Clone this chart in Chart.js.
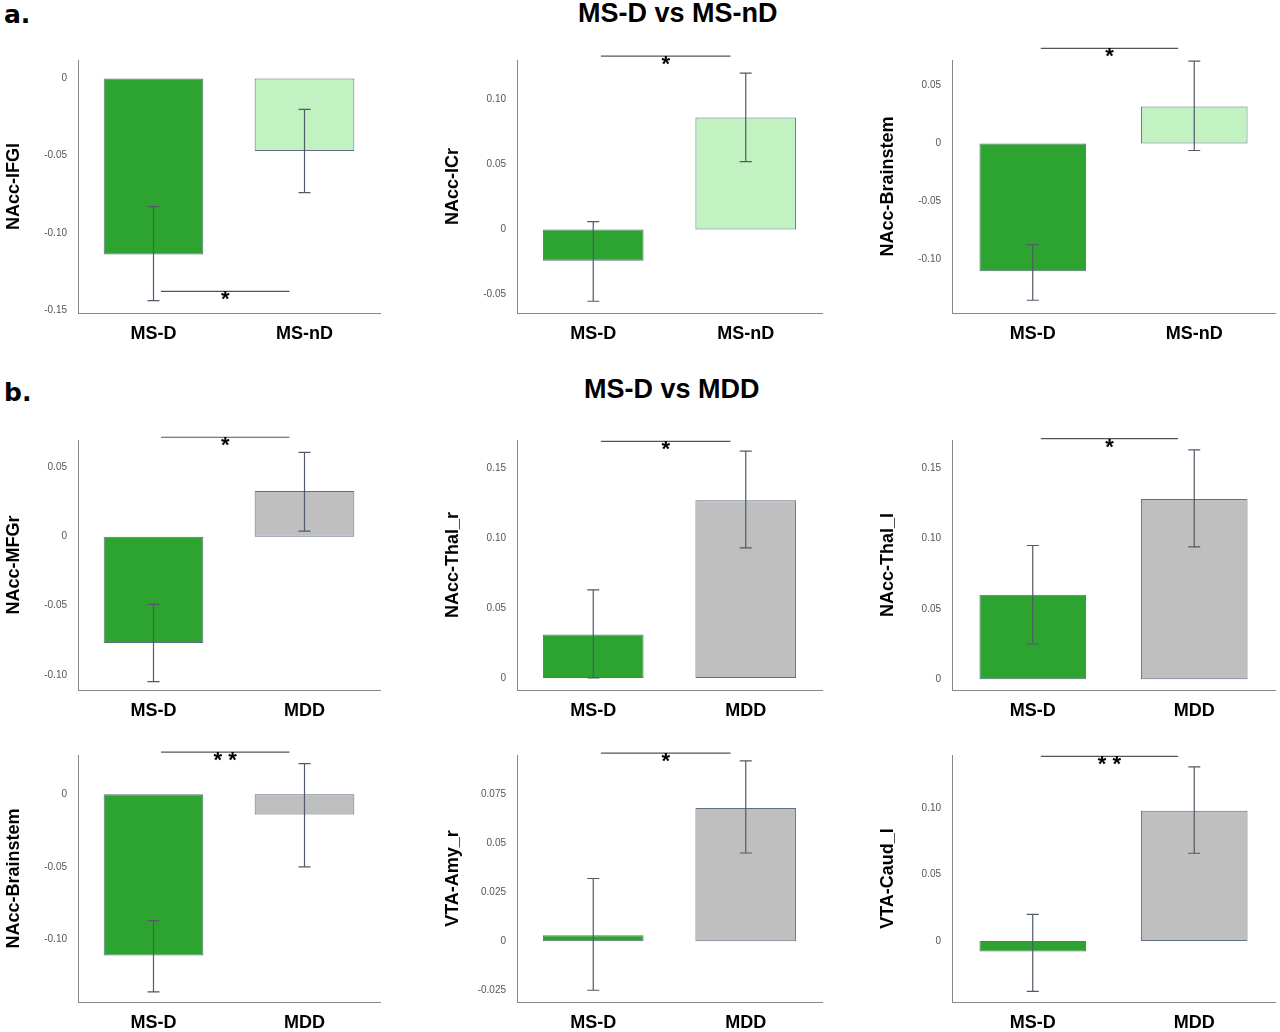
<!DOCTYPE html>
<html>
<head>
<meta charset="utf-8">
<script src="https://cdn.jsdelivr.net/npm/chart.js@4"></script>
<style>
  body { margin: 0; width: 1280px; height: 1032px; background: #fff; position: relative; overflow: hidden;
         font-family: "Liberation Sans", Arial, sans-serif; }
  .box { position: absolute; }
  .head { position: absolute; font-weight: bold; font-size: 27px; color: #000; }
  .tag { position: absolute; font-weight: 900; font-size: 25px; font-family: "DejaVu Sans", sans-serif; }
</style>
</head>
<body>
<div class="tag" style="left:4px;top:0px">a.</div>
<div class="head" style="left:578px;top:-2px">MS-D vs MS-nD</div>
<div class="tag" style="left:4px;top:378px">b.</div>
<div class="head" style="left:584px;top:374px">MS-D vs MDD</div>

<script>
// ---- data ----
const groupsA = ['MS-D', 'MS-nD'];
const groupsB = ['MS-D', 'MDD'];
const panelTitles = ['NAcc-IFGl', 'NAcc-ICr', 'NAcc-Brainstem', 'NAcc-MFGr', 'NAcc-Thal_r', 'NAcc-Thal_l',
                     'NAcc-Brainstem', 'VTA-Amy_r', 'VTA-Caud_l'];
const means  = [[-0.114, -0.047], [-0.024, 0.086], [-0.110, 0.032], [-0.077, 0.033], [0.031, 0.127],
                [0.060, 0.128], [-0.111, -0.014], [0.003, 0.068], [-0.008, 0.098]];
const errLow = [[-0.144, -0.074], [-0.055, 0.052], [-0.135, -0.006], [-0.105, 0.004], [0.000, 0.093],
                [0.025, 0.094], [-0.136, -0.050], [-0.025, 0.045], [-0.038, 0.066]];
const errHigh = [[-0.083, -0.020], [0.006, 0.120], [-0.087, 0.071], [-0.049, 0.061], [0.063, 0.162],
                 [0.095, 0.163], [-0.087, 0.021], [0.032, 0.092], [0.020, 0.131]];
const yMin = [-0.152, -0.064, -0.146, -0.111, -0.0086, -0.0077, -0.143, -0.031, -0.046];
const yMax = [0.012, 0.13, 0.072, 0.070, 0.170, 0.170, 0.027, 0.095, 0.140];
const tickVals = [[-0.15, -0.10, -0.05, 0], [-0.05, 0, 0.05, 0.10], [-0.10, -0.05, 0, 0.05],
                  [-0.10, -0.05, 0, 0.05], [0, 0.05, 0.10, 0.15], [0, 0.05, 0.10, 0.15],
                  [-0.10, -0.05, 0], [-0.025, 0, 0.025, 0.05, 0.075], [0, 0.05, 0.10]];
const tickLabels = [['-0.15', '-0.10', '-0.05', '0'], ['-0.05', '0', '0.05', '0.10'], ['-0.10', '-0.05', '0', '0.05'],
                    ['-0.10', '-0.05', '0', '0.05'], ['0', '0.05', '0.10', '0.15'], ['0', '0.05', '0.10', '0.15'],
                    ['-0.10', '-0.05', '0'], ['-0.025', '0', '0.025', '0.05', '0.075'], ['0', '0.05', '0.10']];
const sigLevel = [-0.138, 0.133, 0.082, 0.072, 0.169, 0.171, 0.029, 0.096, 0.139];
const sigMark = ['*', '*', '*', '*', '*', '*', '* *', '*', '* *'];

// ---- layout ----
const cols = [[78, 380], [517, 822], [952, 1275]];
const rows = [[60, 313], [440, 690], [755, 1002]];
const colours = { green: '#2ca42f', light: '#c2f2c2', grey: '#bfbfbf' };

const panelPlugin = {
  id: 'panelExtras',
  afterDatasetsDraw(chart, args, opts) {
    const ctx = chart.ctx, x = chart.scales.x, y = chart.scales.y;
    ctx.save();
    ctx.lineWidth = 1.2;
    for (let i = 0; i < 2; i++) {
      const px = x.getPixelForValue(i);
      const lo = y.getPixelForValue(opts.low[i]), hi = y.getPixelForValue(opts.high[i]);
      ctx.strokeStyle = '#505a68';
      ctx.beginPath();
      ctx.moveTo(px, lo); ctx.lineTo(px, hi);
      ctx.moveTo(px - 6, lo); ctx.lineTo(px + 6, lo);
      ctx.moveTo(px - 6, hi); ctx.lineTo(px + 6, hi);
      ctx.stroke();
    }
    const unit = x.getPixelForValue(1) - x.getPixelForValue(0);
    const x0 = x.getPixelForValue(0) + unit * 0.05, x1 = x.getPixelForValue(1) - unit * 0.1;
    const sy = y.getPixelForValue(opts.sig);
    ctx.strokeStyle = '#555';
    ctx.beginPath(); ctx.moveTo(x0, sy); ctx.lineTo(x1, sy); ctx.stroke();
    ctx.fillStyle = '#000';
    ctx.font = 'bold 22px "Liberation Sans", Arial';
    ctx.textAlign = 'center'; ctx.textBaseline = 'alphabetic';
    ctx.fillText(opts.mark, (x0 + x1) / 2, sy - 1 + 16);
    ctx.restore();
  }
};

for (let p = 0; p < 9; p++) {
  const [cl, cr] = cols[p % 3];
  const [rt, rb] = rows[Math.floor(p / 3)];
  const padL = 75, padT = 45, padB = 38;
  const div = document.createElement('div');
  div.className = 'box';
  div.style.left = (cl - padL) + 'px';
  div.style.top = (rt - padT) + 'px';
  div.style.width = (cr - cl + padL + 4) + 'px';
  div.style.height = (rb - rt + padT + padB) + 'px';
  const cv = document.createElement('canvas');
  div.appendChild(cv);
  document.body.appendChild(div);

  const second = p < 3 ? colours.light : colours.grey;
  new Chart(cv, {
    type: 'bar',
    data: {
      labels: p < 3 ? groupsA : groupsB,
      datasets: [{
        data: means[p],
        backgroundColor: [colours.green, second],
        borderColor: '#5f6f86',
        borderWidth: 1,
        borderSkipped: false,
        barPercentage: 0.66,
        categoryPercentage: 1
      }]
    },
    options: {
      responsive: true,
      maintainAspectRatio: false,
      animation: false,
      layout: { padding: { top: padT, right: 4, left: 0, bottom: 0 } },
      plugins: {
        legend: { display: false },
        tooltip: { enabled: false },
        panelExtras: { low: errLow[p], high: errHigh[p], sig: sigLevel[p], mark: sigMark[p] }
      },
      scales: {
        x: {
          grid: { display: false },
          border: { color: '#888', width: 1 },
          ticks: { color: '#000', font: { size: 18, weight: 'bold', family: '"Liberation Sans", Arial' }, padding: 2 },
          afterFit: s => { s.height = padB; }
        },
        y: {
          min: yMin[p], max: yMax[p],
          grid: { display: false, drawTicks: true },
          border: { color: '#888', width: 1 },
          afterBuildTicks: s => { s.ticks = tickVals[p].map(v => ({ value: v })); },
          ticks: {
            color: '#555', font: { size: 10, family: '"Liberation Sans", Arial' },
            callback: (v, i) => tickLabels[p][i]
          },
          title: { display: true, text: panelTitles[p], color: '#000', padding: { top: 0, bottom: 4 },
                   font: { size: 18, weight: 'bold', family: '"Liberation Sans", Arial' } },
          afterFit: s => { s.width = padL; }
        }
      }
    },
    plugins: [panelPlugin]
  });
}
</script>
</body>
</html>
